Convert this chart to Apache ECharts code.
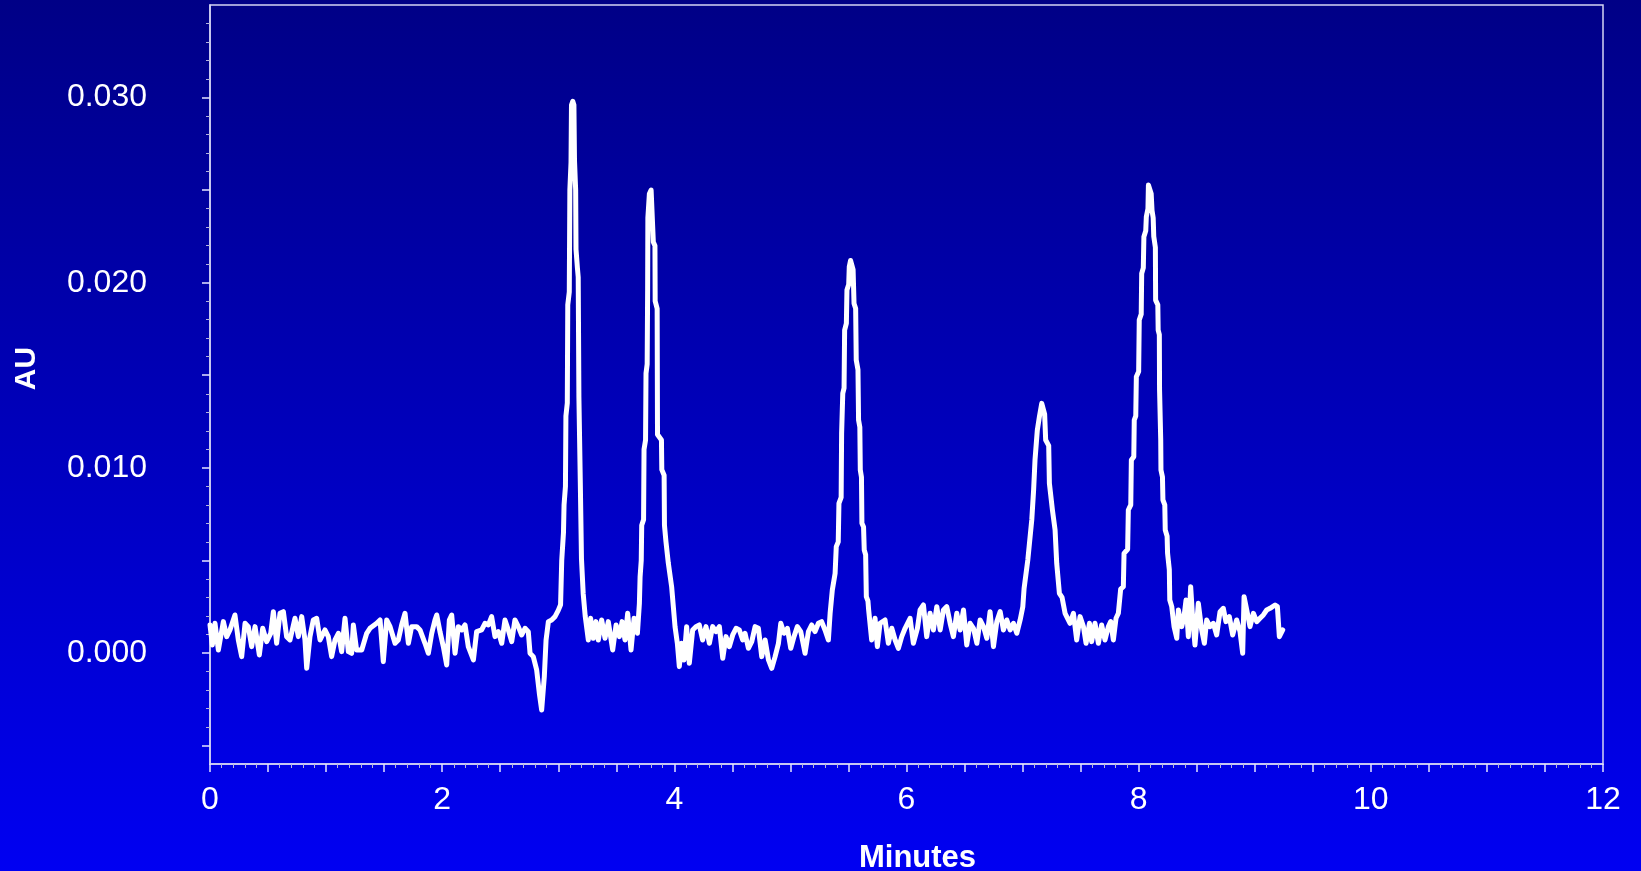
<!DOCTYPE html>
<html>
<head>
<meta charset="utf-8">
<title>Chromatogram</title>
<script src="https://cdn.jsdelivr.net/npm/echarts@6/dist/echarts.min.js"></script>
<style>
    html, body { margin: 0; padding: 0; background: #0000b0; }
    #chart { width: 1641px; height: 871px; }
</style>
</head>
<body>
<div id="chart"></div>
<script>
// retention time (min) and detector signal (milli-AU)
const minutes = [
    0.000, 0.020, 0.043, 0.072, 0.115, 0.144, 0.172, 0.215, 0.244, 0.273,
    0.302, 0.330, 0.359, 0.388, 0.425, 0.454, 0.488, 0.523, 0.546, 0.574,
    0.603, 0.632, 0.660, 0.689, 0.732, 0.761, 0.790, 0.818, 0.833, 0.861,
    0.890, 0.919, 0.948, 0.991, 1.019, 1.048, 1.077, 1.106, 1.134, 1.163,
    1.192, 1.220, 1.235, 1.263, 1.307, 1.350, 1.378, 1.436, 1.465, 1.493,
    1.522, 1.551, 1.594, 1.622, 1.651, 1.680, 1.709, 1.737, 1.780, 1.809,
    1.852, 1.881, 1.910, 1.938, 1.953, 1.981, 2.010, 2.039, 2.062, 2.082,
    2.111, 2.139, 2.168, 2.197, 2.225, 2.269, 2.297, 2.340, 2.369, 2.398,
    2.426, 2.455, 2.484, 2.513, 2.541, 2.570, 2.599, 2.627, 2.656, 2.685,
    2.714, 2.742, 2.757, 2.785, 2.814, 2.837, 2.857, 2.880, 2.895, 2.915,
    2.943, 2.972,
    // peak 1
    3.000, 3.020, 3.030, 3.045, 3.050, 3.062, 3.066, 3.078, 3.082, 3.095,
    3.100, 3.110, 3.114, 3.125, 3.135, 3.140, 3.150, 3.153, 3.165, 3.172,
    3.178, 3.190, 3.200, 3.215, 3.232, 3.245,
    3.259, 3.279, 3.302, 3.325, 3.345, 3.374, 3.403, 3.431, 3.469, 3.498,
    3.527, 3.550, 3.575, 3.598, 3.627, 3.653, 3.682, 3.699,
    // peak 2
    3.705, 3.715, 3.719, 3.735, 3.739, 3.752, 3.756, 3.766, 3.770, 3.772,
    3.785, 3.800, 3.815, 3.819, 3.833, 3.835, 3.852, 3.855, 3.889, 3.892,
    3.912, 3.915, 3.928, 3.948, 3.977,
    4.006, 4.026, 4.043, 4.063, 4.083, 4.106, 4.129, 4.158, 4.186, 4.215,
    4.244, 4.273, 4.302, 4.330, 4.359, 4.388, 4.417, 4.445, 4.474, 4.503,
    4.532, 4.560, 4.589, 4.609, 4.638, 4.667, 4.696, 4.724, 4.753, 4.782,
    4.811, 4.839, 4.868, 4.897, 4.917, 4.945, 4.974, 5.003, 5.031, 5.060,
    5.089, 5.126, 5.155, 5.183, 5.212, 5.241, 5.269, 5.298, 5.327, 5.342,
    // peak 3
    5.361, 5.385, 5.395, 5.412, 5.418, 5.437, 5.441, 5.451, 5.462, 5.467,
    5.482, 5.487, 5.502, 5.507, 5.518, 5.530, 5.540, 5.548, 5.562, 5.567,
    5.582, 5.587, 5.598, 5.602, 5.612, 5.616, 5.630, 5.636, 5.648, 5.654,
    5.668, 5.674,
    5.700, 5.729, 5.749, 5.772, 5.815, 5.844, 5.873, 5.902, 5.930, 5.959,
    5.988, 6.031, 6.059, 6.094, 6.117, 6.146, 6.174, 6.203, 6.232, 6.261,
    6.290, 6.318, 6.347, 6.376, 6.404, 6.433, 6.462, 6.491, 6.519, 6.548,
    6.577, 6.606, 6.634, 6.663, 6.692, 6.720, 6.749, 6.778, 6.807, 6.835,
    6.864, 6.893, 6.921, 6.950, 6.979, 7.002,
    // peak 4
    7.013, 7.045, 7.079, 7.095, 7.107, 7.127, 7.145, 7.165, 7.180, 7.190,
    7.199, 7.225, 7.231, 7.257, 7.280, 7.294, 7.317, 7.340, 7.366,
    7.409, 7.438, 7.466, 7.495, 7.524, 7.547, 7.576, 7.595, 7.624, 7.653,
    7.681, 7.710, 7.739, 7.759, 7.782, 7.805, 7.825,
    // peak 5
    7.845, 7.868, 7.874, 7.905, 7.911, 7.932, 7.937, 7.958, 7.962, 7.975,
    7.980, 8.000, 8.005, 8.022, 8.026, 8.040, 8.045, 8.061, 8.066, 8.080,
    8.084, 8.100, 8.108, 8.115, 8.125, 8.130, 8.144, 8.146, 8.165, 8.168,
    8.178, 8.180, 8.190, 8.192, 8.205, 8.209, 8.225, 8.229, 8.245, 8.249,
    8.264, 8.268, 8.285,
    8.305, 8.328, 8.342, 8.371, 8.391, 8.408, 8.428, 8.448, 8.465, 8.485,
    8.514, 8.543, 8.566, 8.586, 8.614, 8.643, 8.672, 8.701, 8.729, 8.752,
    8.781, 8.810, 8.844, 8.873, 8.896, 8.908, 8.931, 8.959, 8.988, 9.017,
    9.045, 9.074, 9.103, 9.132, 9.175, 9.195, 9.212, 9.241
]

const milliAU = [
    1.51, 0.43, 1.60, 0.16, 1.69, 0.88, 1.24, 2.05, 0.70, -0.20,
    1.60, 1.42, 0.34, 1.42, -0.11, 1.33, 0.61, 1.06, 2.23, 0.52,
    2.14, 2.23, 0.88, 0.70, 1.87, 0.88, 1.96, 0.70, -0.83, 0.88,
    1.78, 1.87, 0.70, 1.24, 0.88, -0.20, 0.70, 1.06, 0.07, 1.87,
    0.07, -0.02, 1.51, 0.16, 0.16, 1.06, 1.33, 1.60, 1.78, -0.47,
    1.78, 1.42, 0.52, 0.70, 1.51, 2.14, 0.52, 1.42, 1.42, 1.24,
    0.52, -0.02, 1.06, 1.78, 2.05, 1.15, 0.34, -0.65, 1.78, 2.05,
    -0.02, 1.42, 1.24, 1.51, 0.34, -0.38, 1.15, 1.24, 1.60, 1.51,
    1.96, 0.88, 1.15, 0.52, 1.78, 1.24, 0.61, 1.78, 1.42, 0.97,
    1.33, 1.15, -0.02, -0.20, -0.92, -2.18, -3.08, -1.28, 0.70, 1.69,
    1.78, 1.96,
    // peak 1
    2.30, 2.60, 5.00, 6.50, 8.00, 9.00, 12.80, 13.50, 18.80, 19.50,
    25.00, 26.50, 29.60, 29.80, 29.60, 26.60, 25.00, 21.80, 20.80, 20.30,
    13.80, 9.20, 5.10, 3.20, 2.00, 1.96,
    0.70, 1.87, 0.79, 1.69, 0.70, 1.78, 0.79, 1.69, 0.16, 1.51,
    0.88, 1.69, 0.70, 2.14, 0.16, 1.87, 1.06, 2.68,
    // peak 2
    4.10, 5.00, 6.90, 7.20, 11.00, 11.50, 15.10, 15.60, 19.60, 23.50,
    24.80, 25.00, 24.90, 22.20, 22.00, 19.00, 18.60, 11.80, 11.50, 9.90,
    9.60, 6.90, 6.00, 4.86, 3.56,
    1.42, 0.52, -0.74, 0.52, -0.38, 1.42, -0.56, 1.24, 1.42, 1.51,
    0.70, 1.42, 0.52, 1.42, 1.15, 1.42, -0.29, 0.88, 0.34, 0.97,
    1.33, 1.24, 0.70, 1.06, 0.25, 0.61, 1.42, 1.33, -0.20, 0.70,
    -0.38, -0.83, -0.20, 0.52, 1.60, 1.06, 1.33, 0.25, 0.88, 1.42,
    1.15, -0.02, 1.15, 1.51, 1.15, 1.60, 1.69, 1.24, 0.70, 2.14,
    // peak 3
    3.40, 4.30, 5.74, 6.00, 8.08, 8.40, 11.86, 14.02, 14.30, 17.44,
    17.80, 19.60, 19.90, 20.86, 21.20, 21.10, 20.70, 18.88, 18.60, 15.82,
    15.30, 12.58, 12.20, 9.88, 9.50, 7.00, 6.80, 5.56, 5.30, 3.04,
    2.80, 2.32,
    0.70, 1.87, 0.34, 1.60, 1.78, 0.52, 1.33, 0.70, 0.25, 0.88,
    1.33, 1.87, 0.52, 1.33, 2.32, 2.59, 0.88, 2.14, 1.24, 2.50,
    1.24, 2.32, 2.50, 1.60, 0.88, 2.14, 1.24, 2.32, 0.43, 1.60,
    1.33, 0.52, 1.78, 1.42, 0.79, 2.23, 0.34, 1.69, 2.23, 1.24,
    1.78, 1.24, 1.60, 1.06, 1.78, 2.50,
    // peak 4
    3.49, 5.02, 7.18, 8.80, 10.42, 12.04, 12.76, 13.48, 13.40, 12.90,
    11.50, 11.20, 9.16, 7.72, 6.64, 4.84, 3.22, 3.00, 2.14,
    1.60, 2.14, 0.70, 1.96, 1.42, 0.52, 1.60, 0.61, 1.60, 0.52,
    1.51, 0.70, 1.42, 1.69, 0.70, 1.87, 2.14,
    // peak 5
    3.45, 3.58, 5.38, 5.60, 7.72, 8.00, 10.42, 10.60, 12.58, 12.80,
    14.92, 15.20, 17.98, 18.30, 20.50, 20.80, 22.48, 22.80, 23.56, 24.00,
    25.27, 25.27, 24.80, 23.90, 23.50, 22.50, 21.90, 19.06, 18.80, 17.44,
    17.20, 14.20, 11.50, 9.88, 9.50, 8.26, 8.00, 6.64, 6.30, 5.38,
    4.50, 2.86, 2.50,
    1.42, 0.79, 2.32, 1.42, 1.96, 2.86, 0.88, 3.58, 1.87, 0.43,
    2.68, 1.24, 0.52, 1.78, 1.42, 1.60, 0.97, 2.23, 2.41, 1.69,
    1.96, 0.97, 1.78, 1.15, -0.02, 3.04, 2.32, 1.42, 2.14, 1.69,
    1.87, 2.05, 2.32, 2.41, 2.59, 2.50, 0.88, 1.24
]

// axis ticks / labels (signal axis is in milli-AU, labelled in AU)
const xLabelValues = [0, 2, 4, 6, 8, 10, 12]
const yLabelValues = [0, 10, 20, 30]
const yMajorTicks = [-5, 0, 5, 10, 15, 20, 25, 30]
const yMinorTicks = []
for (let v = -5; v <= 34; v++) {
    if (v % 5 !== 0) yMinorTicks.push(v)
}

const chart = echarts.init(document.getElementById('chart'))

const labelFont = 'Liberation Sans, Arial, Helvetica, sans-serif'

const option = {
    animation: false,
    backgroundColor: new echarts.graphic.LinearGradient(0, 0, 0, 1, [
        {offset: 0, color: '#000086'},
        {offset: 1, color: '#0000f2'}
    ]),
    grid: {
        left: 210,
        right: 38,
        top: 5,
        bottom: 107,
        containLabel: false,
        outerBoundsMode: 'none',
        show: true,
        backgroundColor: 'transparent',
        borderColor: '#d4d4f4',
        borderWidth: 1.5
    },
    xAxis: {
        type: 'value',
        min: 0,
        max: 12,
        interval: 0.5,
        name: 'Minutes',
        nameLocation: 'middle',
        nameGap: 79,
        nameTextStyle: {
            color: '#ffffff',
            fontSize: 31,
            fontWeight: 'bold',
            fontFamily: labelFont,
            padding: [0, 0, 0, 22]
        },
        axisLine: {
            onZero: false,
            lineStyle: {color: '#d4d4f4', width: 1.5}
        },
        axisTick: {
            length: 8,
            lineStyle: {color: '#e4e4ff', width: 1.5}
        },
        minorTick: {
            show: true,
            splitNumber: 5,
            length: 4,
            lineStyle: {color: '#b4b4dc', width: 1}
        },
        axisLabel: {
            customValues: xLabelValues,
            color: '#ffffff',
            fontSize: 32,
            fontFamily: labelFont,
            margin: 20
        },
        splitLine: {show: false},
        minorSplitLine: {show: false}
    },
    yAxis: [{
        type: 'value',
        min: -6,
        max: 35,
        name: 'AU',
        nameLocation: 'middle',
        nameRotate: 90,
        nameGap: 168,
        nameTextStyle: {
            color: '#ffffff',
            fontSize: 30,
            fontWeight: 'bold',
            fontFamily: labelFont,
            padding: [0, 0, 0, 32]
        },
        axisLine: {
            show: true,
            onZero: false,
            lineStyle: {color: '#d4d4f4', width: 1.5}
        },
        axisTick: {
            show: true,
            customValues: yMajorTicks,
            length: 8,
            lineStyle: {color: '#e4e4ff', width: 1.5}
        },
        axisLabel: {
            customValues: yLabelValues,
            color: '#ffffff',
            fontSize: 32,
            fontFamily: labelFont,
            margin: 63,
            padding: [0, 0, 12, 0],
            formatter: v => (v / 1000).toFixed(3)
        },
        splitLine: {show: false}
    }, {
        type: 'value',
        min: -6,
        max: 35,
        position: 'left',
        axisLine: {show: false, onZero: false},
        axisTick: {
            show: true,
            customValues: yMinorTicks,
            length: 4,
            lineStyle: {color: '#b4b4dc', width: 1}
        },
        axisLabel: {show: false},
        splitLine: {show: false}
    }],
    series: [{
        name: 'AU',
        type: 'line',
        yAxisIndex: 0,
        showSymbol: false,
        symbol: 'none',
        lineStyle: {
            color: '#ffffff',
            width: 5,
            cap: 'round',
            join: 'round'
        },
        data: minutes.map((t, i) => [t, milliAU[i]])
    }]
}

chart.setOption(option)
</script>
</body>
</html>
